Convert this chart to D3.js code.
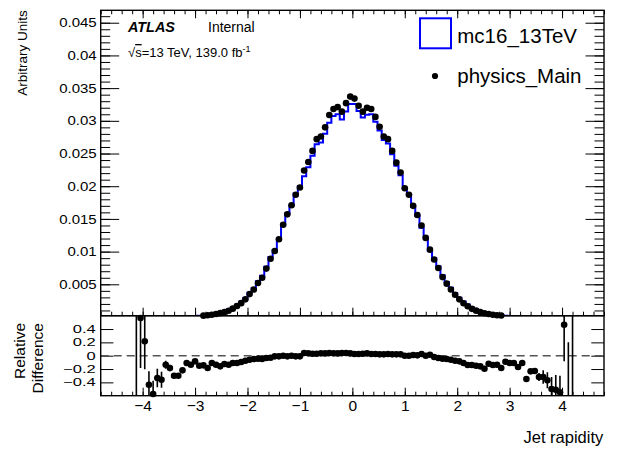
<!DOCTYPE html>
<html>
<head>
<meta charset="utf-8">
<script src="https://cdn.jsdelivr.net/npm/d3@7"></script>
<style>
  body { margin: 0; background: #fff; }
  svg { display: block; }
  text { font-family: "Liberation Sans", Arial, Helvetica, sans-serif; fill: #000; }
</style>
</head>
<body>
<svg id="chart" width="620" height="451"></svg>
<script>
// ---- Binning: 120 bins of width 0.08 in jet rapidity, from -4.8 to 4.8 ----
const binLow = -4.8;
const binWidth = 0.08;
const nBins = 120;

// Normalised data (physics_Main), bins ordered from -4.76 to +4.76
const dataVals = [
  0.000002,0.000003,0.000004,0.000005,0.000006,0.000008,0.00001,0.000012,0.000014,0.000016,
  0.000018,0.00002,0.000022,0.000025,0.000028,0.000032,0.000037,0.000043,0.00005,0.00006,
  0.000075,0.000095,0.00012,0.00016,0.00021,0.00027,0.00035,0.00045,0.00059,0.00076,
  0.00096,0.00128,0.00168,0.00212,0.0027,0.0035,0.0042,0.0052,0.0060,0.0074,
  0.0089,0.0101,0.0119,0.0141,0.0157,0.0171,0.0187,0.0198,0.0224,0.0237,
  0.0254,0.0272,0.0276,0.0290,0.0309,0.0318,0.0321,0.0314,0.0327,0.0337,
  0.0334,0.0323,0.0314,0.0320,0.0318,0.0306,0.0291,0.0276,0.0272,0.0254,
  0.0236,0.0221,0.0197,0.0187,0.0170,0.0156,0.0140,0.0121,0.0103,0.0088,
  0.0075,0.0061,0.0051,0.0042,0.0034,0.0027,0.0021,0.00165,0.00125,0.00097,
  0.00075,0.00058,0.00045,0.00035,0.00028,0.00022,0.00017,0.00013,0.0001,0.00008,
  0.000063,0.00005,0.00004,0.000035,0.00003,0.000026,0.000023,0.00002,0.000018,0.000016,
  0.000014,0.000012,0.00001,0.000008,0.000006,0.000005,0.000004,0.000003,0.000002,0.000002
];

// Normalised simulation (mc16_13TeV), same bins
const mcVals = [
  0.000002,0.000003,0.000004,0.000005,0.000006,0.000008,0.00001,0.000012,0.00003,0.00001,
  0.000015,0.000035,0.000052,0.000038,0.000044,0.000037,0.000045,0.000061,0.000071,0.000077,
  0.000084,0.00011,0.000131,0.000188,0.000246,0.000331,0.000393,0.00052,0.000702,0.000869,
  0.00111,0.00144,0.00189,0.00234,0.00292,0.00372,0.00442,0.00545,0.00632,0.00767,
  0.00918,0.0102,0.0120,0.0141,0.01586,0.0171,0.01889,0.0200,0.02154,0.0229,
  0.02466,0.02641,0.02667,0.02802,0.02971,0.03072,0.03101,0.03019,0.03144,0.03256,
  0.03259,0.03151,0.03049,0.03092,0.03102,0.02985,0.02853,0.02706,0.02654,0.0249,
  0.02314,0.02167,0.0197,0.0187,0.01683,0.01552,0.01366,0.0121,0.01015,0.00898,
  0.00777,0.00639,0.00537,0.00447,0.00368,0.00295,0.00236,0.00192,0.00145,0.00114,
  0.000893,0.00072,0.000511,0.000407,0.000324,0.00027,0.000187,0.000146,0.000112,0.000096,
  0.00007,0.000077,0.000052,0.000045,0.000044,0.000038,0.000037,0.00004,0.000037,0.000036,
  0.0000095,0.00004,0.00003,0.000008,0.000006,0.000005,0.000004,0.000003,0.000002,0.000002
];

// Relative difference (data - MC) / MC and its uncertainty; null = empty bin
const relDiff = [
  null,null,null,null,null,null,null,null,-0.9,0.565,
  0.215,-0.435,-0.575,-0.335,-0.36,-0.135,-0.185,-0.30,-0.30,-0.22,
  -0.11,-0.135,-0.085,-0.15,-0.145,-0.185,-0.11,-0.135,-0.16,-0.125,
  -0.135,-0.11,-0.11,-0.095,-0.075,-0.06,-0.05,-0.045,-0.05,-0.035,
  -0.03,-0.01,-0.01,0.0,-0.01,0.0,-0.01,-0.01,0.04,0.035,
  0.03,0.03,0.035,0.035,0.04,0.035,0.035,0.04,0.04,0.035,
  0.025,0.025,0.03,0.035,0.025,0.025,0.02,0.02,0.025,0.02,
  0.02,0.02,0.0,0.0,0.01,0.005,0.025,0.0,0.015,-0.02,
  -0.035,-0.045,-0.05,-0.06,-0.075,-0.085,-0.11,-0.14,-0.14,-0.15,
  -0.16,-0.195,-0.12,-0.14,-0.135,-0.185,-0.09,-0.11,-0.11,-0.17,
  -0.11,-0.35,-0.235,-0.23,-0.32,-0.32,-0.37,-0.50,-0.51,-0.55,
  0.465,-0.75,-1.0,null,null,null,null,null,null,null
];
const relErr = [
  null,null,null,null,null,null,null,null,1.6,0.75,
  0.42,0.2,0.2,0.14,0.12,0.06,0.05,0.03,0.03,0.025,
  0.02,0.02,0.018,0.015,0.013,0.012,0.01,0.009,0.008,0.007,
  0.007,0.006,0.006,0.006,0.005,0.005,0.005,0.005,0.005,0.005,
  0.005,0.005,0.005,0.005,0.005,0.005,0.005,0.005,0.005,0.005,
  0.005,0.005,0.005,0.005,0.005,0.005,0.005,0.005,0.005,0.005,
  0.005,0.005,0.005,0.005,0.005,0.005,0.005,0.005,0.005,0.005,
  0.005,0.005,0.005,0.005,0.005,0.005,0.005,0.005,0.005,0.005,
  0.005,0.005,0.005,0.005,0.005,0.005,0.006,0.006,0.006,0.007,
  0.007,0.008,0.009,0.01,0.012,0.013,0.015,0.018,0.02,0.02,
  0.025,0.03,0.03,0.04,0.06,0.1,0.12,0.18,0.22,0.25,
  0.55,0.95,2.0,null,null,null,null,null,null,null
];

// Axis ticks and labels
const xTickVals = [-4,-3,-2,-1,0,1,2,3,4];
const xTickLabels = ["\u22124","\u22123","\u22122","\u22121","0","1","2","3","4"];
const yTopTickVals = [0.005,0.01,0.015,0.02,0.025,0.03,0.035,0.04,0.045];
const yTopTickLabels = ["0.005","0.01","0.015","0.02","0.025","0.03","0.035","0.04","0.045"];
const yBotTickVals = [-0.4,-0.2,0,0.2,0.4];
const yBotTickLabels = ["\u22120.4","\u22120.2","0","0.2","0.4"];

// ---- Layout ----
const X0 = 100.7, X1 = 604;
const T0 = 10.3, T1 = 315.7, B1 = 395.7;
const blue = "#0000ff";

const svg = d3.select("#chart");

const x = d3.scaleLinear().domain([binLow, binLow + nBins * binWidth]).range([X0, X1]);
const yTop = d3.scaleLinear().domain([0.0002, 0.0469]).range([T1, T0]);
const yBot = d3.scaleLinear().domain([-0.6, 0.6]).range([B1, T1]);

const bins = d3.range(nBins).map(i => {
  const lo = binLow + i * binWidth;
  return { lo, hi: lo + binWidth, c: lo + binWidth / 2,
           data: dataVals[i], mc: mcVals[i], rel: relDiff[i], err: relErr[i] };
});

const defs = svg.append("defs");
defs.append("clipPath").attr("id", "clipTop")
  .append("rect").attr("x", X0).attr("y", T0).attr("width", X1 - X0).attr("height", T1 - T0);
defs.append("clipPath").attr("id", "clipBot")
  .append("rect").attr("x", X0).attr("y", T1).attr("width", X1 - X0).attr("height", B1 - T1);

function styleAxis(g) {
  g.select(".domain").remove();
  g.selectAll(".tick line").attr("stroke", "#000").attr("stroke-width", 1);
  g.attr("font-family", null).attr("font-size", null);
}

// ---------------- Upper panel ----------------
const minorY = d3.range(1, 47).map(i => i * 0.001);
const minorX = d3.range(-24, 25).map(i => i * 0.2);

// left y axis
svg.append("g").attr("transform", `translate(${X0},0)`)
  .call(d3.axisLeft(yTop).tickValues(minorY).tickSize(-9.5).tickFormat(""))
  .call(styleAxis);
const yTopAxis = svg.append("g").attr("transform", `translate(${X0},0)`)
  .call(d3.axisLeft(yTop).tickValues(yTopTickVals).tickSize(-18.5).tickPadding(4)
    .tickFormat((d, i) => yTopTickLabels[i]))
  .call(styleAxis);
yTopAxis.selectAll("text").attr("font-size", 15).attr("transform", "scale(1,0.85)");

// right y axis
svg.append("g").attr("transform", `translate(${X1},0)`)
  .call(d3.axisRight(yTop).tickValues(minorY).tickSize(-9.5).tickFormat(""))
  .call(styleAxis);
svg.append("g").attr("transform", `translate(${X1},0)`)
  .call(d3.axisRight(yTop).tickValues(yTopTickVals).tickSize(-18.5).tickFormat(""))
  .call(styleAxis);

// bottom and top x ticks of upper panel
[[T1, d3.axisBottom], [T0, d3.axisTop]].forEach(([yy, ax]) => {
  svg.append("g").attr("transform", `translate(0,${yy})`)
    .call(ax(x).tickValues(minorX).tickSize(-4).tickFormat(""))
    .call(styleAxis);
  svg.append("g").attr("transform", `translate(0,${yy})`)
    .call(ax(x).tickValues(xTickVals).tickSize(-8).tickFormat(""))
    .call(styleAxis);
});

// MC step histogram
const stepPts = [];
bins.forEach(b => { stepPts.push([b.lo, b.mc]); stepPts.push([b.hi, b.mc]); });
svg.append("path")
  .attr("clip-path", "url(#clipTop)")
  .attr("d", d3.line().x(d => x(d[0])).y(d => yTop(d[1]))(stepPts))
  .attr("fill", "none").attr("stroke", blue).attr("stroke-width", 2);

// data markers
svg.append("g").selectAll("circle")
  .data(bins.filter(b => b.data >= yTop.domain()[0]))
  .join("circle")
  .attr("cx", b => x(b.c)).attr("cy", b => yTop(b.data))
  .attr("r", 3.3).attr("fill", "#000");

// frame
svg.append("rect").attr("x", X0).attr("y", T0).attr("width", X1 - X0).attr("height", T1 - T0)
  .attr("fill", "none").attr("stroke", "#000").attr("stroke-width", 1.4);

// y title
svg.append("text").attr("transform", `translate(27,${T0}) rotate(-90)`)
  .attr("text-anchor", "end").attr("font-size", 13.5).text("Arbitrary Units");

// ATLAS label
svg.append("text").attr("x", 128).attr("y", 31.7).attr("font-size", 14.4)
  .attr("font-weight", "bold").attr("font-style", "italic").text("ATLAS");
svg.append("text").attr("x", 208).attr("y", 31.7).attr("font-size", 14).text("Internal");
const lumi = svg.append("text").attr("x", 128).attr("y", 57).attr("font-size", 13);
lumi.append("tspan").text("\u221A");
lumi.append("tspan").attr("text-decoration", "overline").text("s");
lumi.append("tspan").text("=13 TeV, 139.0 fb");
lumi.append("tspan").attr("font-size", 9).attr("dy", -5).text("-1");

// legend
svg.append("rect").attr("x", 420).attr("y", 18.3).attr("width", 31).attr("height", 30)
  .attr("fill", "none").attr("stroke", blue).attr("stroke-width", 2);
svg.append("text").attr("x", 457.3).attr("y", 42.7).attr("font-size", 20.5).text("mc16_13TeV");
svg.append("circle").attr("cx", 435).attr("cy", 76).attr("r", 3.1).attr("fill", "#000");
svg.append("text").attr("x", 457.3).attr("y", 82.7).attr("font-size", 20.5).text("physics_Main");

// ---------------- Lower panel ----------------
svg.append("g").attr("transform", `translate(${X0},0)`)
  .call(d3.axisLeft(yBot).tickValues(yBotTickVals).tickSize(-12.7).tickPadding(5)
    .tickFormat((d, i) => yBotTickLabels[i]))
  .call(styleAxis)
  .selectAll("text").attr("font-size", 16.5).attr("transform", "scale(1,0.68)");
svg.append("g").attr("transform", `translate(${X1},0)`)
  .call(d3.axisRight(yBot).tickValues(yBotTickVals).tickSize(-12.7).tickFormat(""))
  .call(styleAxis);

svg.append("g").attr("transform", `translate(0,${B1})`)
  .call(d3.axisBottom(x).tickValues(minorX).tickSize(-4).tickFormat(""))
  .call(styleAxis);
svg.append("g").attr("transform", `translate(0,${B1})`)
  .call(d3.axisBottom(x).tickValues(xTickVals).tickSize(-8).tickPadding(4.3)
    .tickFormat((d, i) => xTickLabels[i]))
  .call(styleAxis)
  .selectAll("text").attr("font-size", 15.5);

// zero reference line
svg.append("line").attr("x1", X0).attr("x2", X1).attr("y1", yBot(0)).attr("y2", yBot(0))
  .attr("stroke", "#555").attr("stroke-width", 1.4).attr("stroke-dasharray", "8,5");

const relBins = bins.filter(b => b.rel !== null);
svg.append("g").attr("clip-path", "url(#clipBot)").selectAll("line")
  .data(relBins).join("line")
  .attr("x1", b => x(b.c)).attr("x2", b => x(b.c))
  .attr("y1", b => yBot(b.rel - b.err)).attr("y2", b => yBot(b.rel + b.err))
  .attr("stroke", "#000").attr("stroke-width", 1.6);
svg.append("g").selectAll("circle")
  .data(relBins.filter(b => b.rel >= -0.6 && b.rel <= 0.6)).join("circle")
  .attr("cx", b => x(b.c)).attr("cy", b => yBot(b.rel))
  .attr("r", 3.3).attr("fill", "#000");

svg.append("rect").attr("x", X0).attr("y", T1).attr("width", X1 - X0).attr("height", B1 - T1)
  .attr("fill", "none").attr("stroke", "#000").attr("stroke-width", 1.4);

// lower y title (two lines)
svg.append("text").attr("transform", "translate(25,323) rotate(-90)")
  .attr("text-anchor", "end").attr("font-size", 15.5).text("Relative");
svg.append("text").attr("transform", "translate(43.3,323) rotate(-90)")
  .attr("text-anchor", "end").attr("font-size", 15.5).text("Difference");

// x title
svg.append("text").attr("x", 603.3).attr("y", 443).attr("text-anchor", "end")
  .attr("font-size", 16.5).text("Jet rapidity");
</script>
</body>
</html>
